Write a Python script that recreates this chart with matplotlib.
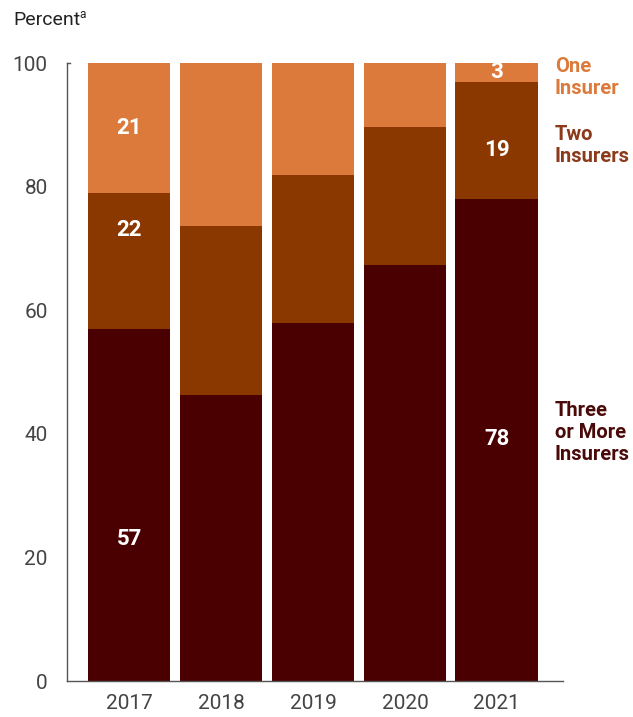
import matplotlib.pyplot as plt
import numpy as np

years = ["2017", "2018", "2019", "2020", "2021"]
three_plus = [57, 46.3, 57.9, 67.3, 78]
two = [22, 27.3, 24.0, 22.3, 19]
one = [21, 26.4, 18.1, 10.4, 3]

# labels drawn inside bars: (bar index, value text, y position in data units)
bar_labels = [(0, "21", 89.5), (0, "22", 73.0), (0, "57", 23.0),
              (4, "3", 98.5), (4, "19", 86.0), (4, "78", 39.2)]

series_names = ["One\nInsurer", "Two\nInsurers", "Three\nor More\nInsurers"]
c_one, c_two, c_three = "#DB7A3A", "#8B3800", "#4A0000"
txt_colors = ["#DB7A3A", "#8B3A1A", "#4A0A0A"]

plt.rcParams['font.family'] = ['Roboto', 'DejaVu Sans']

fig = plt.figure(figsize=(6.33, 7.17), dpi=100)
ax = fig.add_axes([0.106, 0.0502, 0.783, 0.8619])

x = np.arange(len(years))
w = 0.9
b2 = np.array(three_plus)
b3 = b2 + np.array(two)
ax.bar(x, three_plus, w, color=c_three, zorder=2)
ax.bar(x, two, w, bottom=b2, color=c_two, zorder=2)
ax.bar(x, one, w, bottom=b3, color=c_one, zorder=2)

for i, t, yy in bar_labels:
    ax.text(x[i], yy, t, ha="center", va="center", color="white",
            fontsize=16, fontweight="bold")

ax.set_xlim(-0.674, 4.717)
ax.set_ylim(0, 100)
ax.set_yticks([0, 20, 40, 60, 80, 100])
ax.set_xticks(x)
ax.set_xticklabels(years)
ax.tick_params(axis="both", labelsize=15, colors="#444444", length=0, pad=9)
ax.tick_params(axis="y", pad=14)
for s in ["top", "right"]:
    ax.spines[s].set_visible(False)
for s in ["left", "bottom"]:
    ax.spines[s].set_color("#555555")
    ax.spines[s].set_linewidth(1)
# small tick at the top of the axis
ax.plot([-0.674, -0.64], [100, 100], color="#555555", lw=1, clip_on=False)

# series names on the right
name_y = [97.7, 86.7, 40.2]
for n, yy, c in zip(series_names, name_y, txt_colors):
    ax.text(4.63, yy, n, ha="left", va="center", color=c, fontsize=14.5,
            fontweight="bold", linespacing=1.2)

fig.text(13 / 633, 1 - 20 / 717, "Percent", fontsize=14, color="#222222",
         ha="left", va="center")
fig.text(79 / 633, 1 - 14 / 717, "a", fontsize=8.5, color="#222222",
         ha="left", va="center")

fig.savefig("out.png", dpi=100)
